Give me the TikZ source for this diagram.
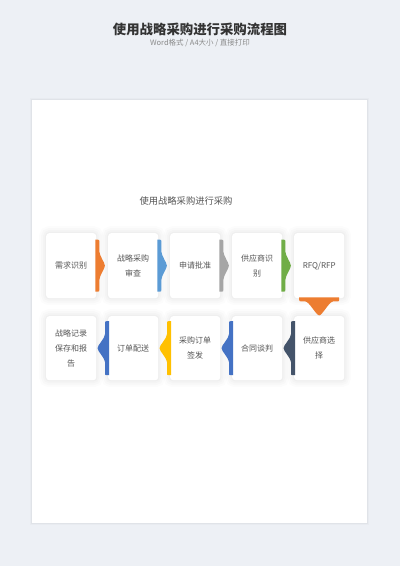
\documentclass[tikz,border=0pt]{standalone}
\usepackage{fontspec}
\setmainfont{Noto Sans CJK SC}
\definecolor{bg}{HTML}{EDF0F5}
\definecolor{titlec}{HTML}{333333}
\definecolor{subc}{HTML}{8A8A8A}
\definecolor{txt}{HTML}{555555}
\definecolor{cOrange}{HTML}{ED7D31}
\definecolor{cBlue}{HTML}{5B9BD5}
\definecolor{cGray}{HTML}{A5A5A5}
\definecolor{cGreen}{HTML}{70AD47}
\definecolor{cBlueD}{HTML}{4472C4}
\definecolor{cYellow}{HTML}{FFC000}
\definecolor{cNavy}{HTML}{44546A}
% #1 half band, #2 half triangle, #3 point depth
\newcommand{\tabpath}[3]{(-1,-#1) -- (1.5,-#1) .. controls (2.7,-#1) and (3,{-#1+0.5}) .. (3,{-#1+2}) -- (3,-#2) .. controls (3,{-#2+4}) and (#3,-3) .. (#3,0) .. controls (#3,3) and (3,{#2-4}) .. (3,#2) -- (3,{#1-2}) .. controls (3,{#1-0.5}) and (2.7,#1) .. (1.5,#1) -- (-1,#1) -- cycle}
\begin{document}
\begin{tikzpicture}[x=1pt,y=-1pt,
  halo/.style={preaction={draw=black, draw opacity=0.012, line width=14pt},
               preaction={draw=black, draw opacity=0.014, line width=10pt},
               preaction={draw=black, draw opacity=0.016, line width=6pt},
               preaction={draw=black, draw opacity=0.018, line width=2.5pt}},
  stepbox/.style={halo, fill=white, rounded corners=3pt, minimum width=50pt,
    minimum height=65pt, text width=38pt, align=center, inner sep=0pt,
    font=\fontsize{8}{15}\selectfont, text=txt, anchor=north west},
  stepboxb/.style={stepbox, minimum height=64pt}]
\useasboundingbox (0,0) rectangle (400,566);
\fill[bg] (0,0) rectangle (400,566);
% card
\fill[white, preaction={draw=black, draw opacity=0.02, line width=4pt},
  preaction={draw=black, draw opacity=0.03, line width=2pt}] (32,100) rectangle (367,523);
% titles
\node[font=\fontsize{13.4}{16}\selectfont\bfseries, text=titlec] (title) at (200,29.5) {使用战略采购进行采购流程图};
\node[font=\fontsize{7.5}{9}\selectfont, text=subc] (sub) at (200,43) {Word格式 / A4大小 / 直接打印};
\node[font=\fontsize{9.3}{11}\selectfont, text=txt] (head) at (186,201) {使用战略采购进行采购};
% row 1
\node[stepbox] (b1) at (46,233) {需求识别};
\node[stepbox] (b2) at (108,233) {战略采购\\审查};
\node[stepbox] (b3) at (170,233) {申请批准};
\node[stepbox] (b4) at (232,233) {供应商识\\别};
\node[stepbox] (b5) at (294,233) {RFQ/RFP};
% row 2
\node[stepboxb] (c1) at (46,316) {战略记录\\保存和报\\告};
\node[stepboxb] (c2) at (108,316) {订单配送};
\node[stepboxb] (c3) at (170,316) {采购订单\\签发};
\node[stepboxb] (c4) at (232,316) {合同谈判};
\node[stepboxb] (c5) at (294,316) {供应商选\\择};
% tabs row 1
\fill[cOrange, shift={(b1.east)}] \tabpath{26}{14}{8.5};
\fill[cBlue,   shift={(b2.east)}] \tabpath{26}{14}{8.5};
\fill[cGray,   shift={(b3.east)}] \tabpath{26}{14}{8.5};
\fill[cGreen,  shift={(b4.east)}] \tabpath{26}{14}{8.5};
% down tab
\fill[cOrange, shift={(b5.south)}, rotate=-90] \tabpath{20}{14}{17};
% tabs row 2 (pointing left)
\fill[cBlueD,  shift={(c2.west)}, xscale=-1] \tabpath{27}{14}{10.5};
\fill[cYellow, shift={(c3.west)}, xscale=-1] \tabpath{27}{14}{10.5};
\fill[cBlueD,  shift={(c4.west)}, xscale=-1] \tabpath{27}{14}{10.5};
\fill[cNavy,   shift={(c5.west)}, xscale=-1] \tabpath{27}{14}{10.5};
\end{tikzpicture}
\end{document}
